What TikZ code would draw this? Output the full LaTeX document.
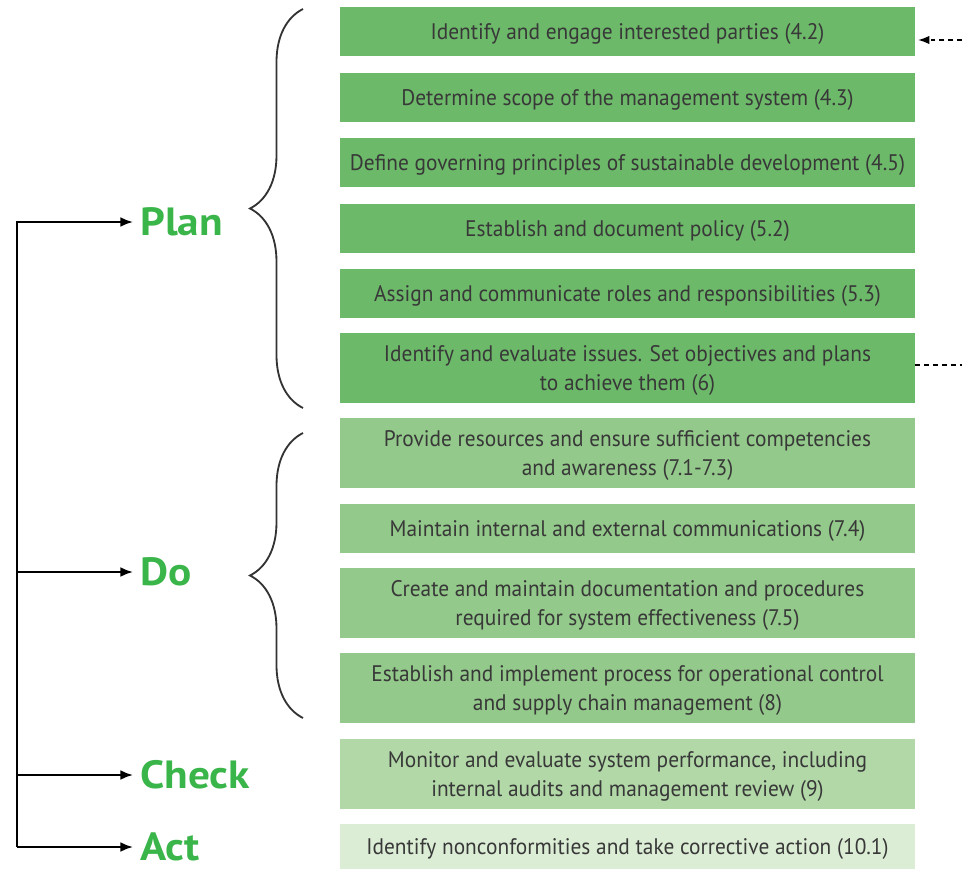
\documentclass[tikz,border=0pt]{standalone}
\usepackage{fontspec}
\setmainfont[FakeStretch=0.95]{PT Sans}
\newfontfamily\phasefont[FakeStretch=1.1]{PT Sans}
\usepackage{xcolor}
\usetikzlibrary{arrows.meta, decorations.pathreplacing, positioning}

\definecolor{planfill}{HTML}{6DB96A}
\definecolor{dofill}{HTML}{93C98A}
\definecolor{checkfill}{HTML}{B2D8A8}
\definecolor{actfill}{HTML}{DCEDD5}
\definecolor{boxtext}{HTML}{383838}
\definecolor{phasegreen}{HTML}{3AB54A}

\begin{document}
\begin{tikzpicture}[x=0.025cm, y=-0.025cm,
    box/.style={inner sep=0pt, minimum width=14.375cm, align=center,
      text depth=0pt, text=boxtext, font=\fontsize{16}{20.5}\selectfont},
    phase/.style={anchor=west, inner xsep=0.175cm, inner ysep=0pt,
      text=phasegreen, font=\phasefont\fontsize{28}{30}\selectfont\bfseries},
    arr/.style={line width=1.4pt, -{Latex[length=9pt, width=7pt]}},
    curly/.style={decorate, decoration={brace, amplitude=1.325cm},
      line width=1.3pt, draw=black!80}]
  \useasboundingbox (0,0) rectangle (962,870);

  % Kotak langkah
  \foreach \n/\yc/\h/\col/\txt in {
      1/31.5/1.225cm/planfill/{Identify and engage interested parties (4.2)},
      2/97.5/1.225cm/planfill/{Determine scope of the management system (4.3)},
      3/162.5/1.225cm/planfill/{Define governing principles of sustainable development (4.5)},
      4/228.5/1.225cm/planfill/{Establish and document policy (5.2)},
      5/293.5/1.225cm/planfill/{Assign and communicate roles and responsibilities (5.3)},
      6/368/1.75cm/planfill/{Identify and evaluate issues. Set objectives and plans\\to achieve them (6)},
      7/453/1.75cm/dofill/{Provide resources and ensure sufficient competencies\\and awareness (7.1-7.3)},
      8/528.5/1.225cm/dofill/{Maintain internal and external communications (7.4)},
      9/603/1.75cm/dofill/{Create and maintain documentation and procedures\\required for system effectiveness (7.5)},
      10/688/1.75cm/dofill/{Establish and implement process for operational control\\and supply chain management (8)},
      11/774/1.75cm/checkfill/{Monitor and evaluate system performance, including\\internal audits and management review (9)},
      12/846.5/1.125cm/actfill/{Identify nonconformities and take corrective action (10.1)}} {
    \node[box, fill=\col, minimum height=\h] (b\n) at (627.5,\yc) {\txt};
  }

  % Label PDCA
  \node[phase] (plan) at (133,222) {Plan};
  \node[phase] (do) at (133,572) {Do};
  \node[phase] (check) at (133,775) {Check};
  \node[phase] (act) at (133,847) {Act};

  \coordinate (s2) at (17,572);
  \coordinate (s3) at (17,775);
  \coordinate (s4) at (17,847);
  \draw[arr] (s4) |- (plan);
  \draw[arr] (s2) -- (do);
  \draw[arr] (s3) -- (check);
  \draw[arr] (s4) -- (act);

  % Kurung kurawal
  \draw[curly] (303,408) -- (303,9);
  \draw[curly] (303,718) -- (303,433);

  % Garis putus-putus
  \coordinate (feed) at (962,40);
  \coordinate (out6) at (962,365);
  \draw[line width=1pt, dash pattern=on 3.5pt off 2.8pt,
    -{Latex[length=8pt, width=6pt]}, shorten >=2pt] (feed) -- (b1.east |- feed);
  \draw[line width=1pt, dash pattern=on 3.5pt off 2.8pt] (b6.east |- out6) -- (out6);
\end{tikzpicture}
\end{document}
